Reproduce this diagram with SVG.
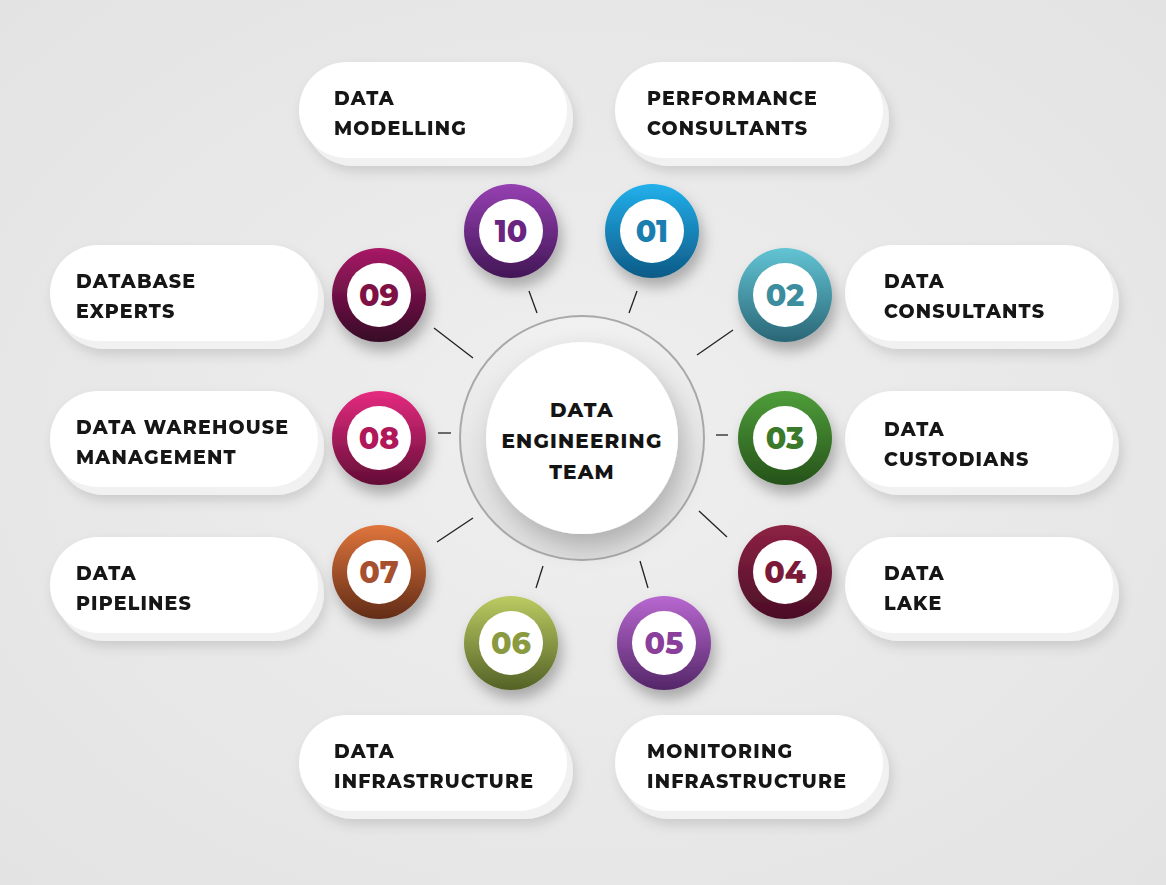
<svg xmlns="http://www.w3.org/2000/svg" width="1166" height="885" viewBox="0 0 1166 885">
<defs>
<style>
.lbl{font-family:"Montserrat","Inter","Liberation Sans",sans-serif;font-weight:800;font-size:19px;letter-spacing:1.2px;fill:#141414}
.ctr{font-family:"Montserrat","Inter","Liberation Sans",sans-serif;font-weight:800;font-size:20px;letter-spacing:1.2px;fill:#141414;text-anchor:middle}
.num{font-family:"Montserrat","Inter","Liberation Sans",sans-serif;font-weight:800;font-size:30px;text-anchor:middle}
.pill{fill:#ffffff}
.pillb{fill:#f1f1f1}
.inner{fill:#ffffff}
.tick{stroke:#222;stroke-width:1.3;fill:none}
</style>
<filter id="ps" x="-20%" y="-30%" width="140%" height="170%"><feDropShadow dx="3" dy="6" stdDeviation="6" flood-color="#000" flood-opacity="0.12"/></filter>
<filter id="cs" x="-50%" y="-50%" width="200%" height="200%"><feDropShadow dx="4" dy="9" stdDeviation="7" flood-color="#000" flood-opacity="0.28"/></filter>
<filter id="hs" x="-50%" y="-50%" width="200%" height="200%"><feDropShadow dx="6" dy="12" stdDeviation="12" flood-color="#000" flood-opacity="0.22"/></filter>
<radialGradient id="bg" cx="0.5" cy="0.5" r="0.7"><stop offset="0" stop-color="#efefef"/><stop offset="1" stop-color="#e3e3e3"/></radialGradient>
<linearGradient id="ring" x1="0" y1="0" x2="0" y2="1"><stop offset="0" stop-color="#f1f1f1"/><stop offset="1" stop-color="#dedede"/></linearGradient>
<linearGradient id="g01" x1="0" y1="0" x2="0" y2="1"><stop offset="0" stop-color="#22b0ec"/><stop offset="1" stop-color="#0d5a86"/></linearGradient>
<linearGradient id="g10" x1="0" y1="0" x2="0" y2="1"><stop offset="0" stop-color="#9640b2"/><stop offset="1" stop-color="#421656"/></linearGradient>
<linearGradient id="g02" x1="0" y1="0" x2="0" y2="1"><stop offset="0" stop-color="#62c4d4"/><stop offset="1" stop-color="#2a6676"/></linearGradient>
<linearGradient id="g09" x1="0" y1="0" x2="0" y2="1"><stop offset="0" stop-color="#a81a66"/><stop offset="1" stop-color="#360826"/></linearGradient>
<linearGradient id="g03" x1="0" y1="0" x2="0" y2="1"><stop offset="0" stop-color="#4f9e3a"/><stop offset="1" stop-color="#25521a"/></linearGradient>
<linearGradient id="g08" x1="0" y1="0" x2="0" y2="1"><stop offset="0" stop-color="#e62b80"/><stop offset="1" stop-color="#620d36"/></linearGradient>
<linearGradient id="g04" x1="0" y1="0" x2="0" y2="1"><stop offset="0" stop-color="#8e2244"/><stop offset="1" stop-color="#4a0e26"/></linearGradient>
<linearGradient id="g07" x1="0" y1="0" x2="0" y2="1"><stop offset="0" stop-color="#df753c"/><stop offset="1" stop-color="#622c16"/></linearGradient>
<linearGradient id="g05" x1="0" y1="0" x2="0" y2="1"><stop offset="0" stop-color="#b868d0"/><stop offset="1" stop-color="#542668"/></linearGradient>
<linearGradient id="g06" x1="0" y1="0" x2="0" y2="1"><stop offset="0" stop-color="#bccb62"/><stop offset="1" stop-color="#536226"/></linearGradient>
</defs>
<rect width="1166" height="885" fill="url(#bg)"/>

<g id="connectors">
<line class="tick" x1="529" y1="291" x2="537" y2="313"/>
<line class="tick" x1="637" y1="291" x2="629" y2="313"/>
<line class="tick" x1="733" y1="330" x2="697" y2="355"/>
<line class="tick" x1="434" y1="328" x2="473" y2="358"/>
<line class="tick" x1="438" y1="433" x2="451" y2="433"/>
<line class="tick" x1="716" y1="435" x2="728" y2="435"/>
<line class="tick" x1="437" y1="542" x2="473" y2="518"/>
<line class="tick" x1="699" y1="511" x2="727" y2="537"/>
<line class="tick" x1="536" y1="588" x2="543" y2="566"/>
<line class="tick" x1="648" y1="588" x2="640" y2="561"/>
</g>

<g id="hub">
<circle cx="582" cy="438" r="122" fill="url(#ring)" stroke="#a9a9a9" stroke-width="2"/>
<circle cx="582" cy="438" r="96" fill="#ffffff" filter="url(#hs)"/>
<text class="ctr" x="582" y="417">DATA</text>
<text class="ctr" x="582" y="448">ENGINEERING</text>
<text class="ctr" x="582" y="479">TEAM</text>
</g>

<g id="p-modelling" filter="url(#ps)">
<rect class="pillb" x="305" y="70" width="268" height="96" rx="48"/>
<rect class="pill" x="299" y="62" width="268" height="96" rx="48"/>
<text class="lbl" x="334" y="105">DATA</text>
<text class="lbl" x="334" y="135">MODELLING</text>
</g>
<g id="p-performance" filter="url(#ps)">
<rect class="pillb" x="621" y="70" width="268" height="96" rx="48"/>
<rect class="pill" x="615" y="62" width="268" height="96" rx="48"/>
<text class="lbl" x="647" y="105">PERFORMANCE</text>
<text class="lbl" x="647" y="135">CONSULTANTS</text>
</g>
<g id="p-database" filter="url(#ps)">
<rect class="pillb" x="56" y="253" width="268" height="96" rx="48"/>
<rect class="pill" x="50" y="245" width="268" height="96" rx="48"/>
<text class="lbl" x="76" y="288">DATABASE</text>
<text class="lbl" x="76" y="318">EXPERTS</text>
</g>
<g id="p-consultants" filter="url(#ps)">
<rect class="pillb" x="851" y="253" width="268" height="96" rx="48"/>
<rect class="pill" x="845" y="245" width="268" height="96" rx="48"/>
<text class="lbl" x="884" y="288">DATA</text>
<text class="lbl" x="884" y="318">CONSULTANTS</text>
</g>
<g id="p-warehouse" filter="url(#ps)">
<rect class="pillb" x="56" y="399" width="268" height="96" rx="48"/>
<rect class="pill" x="50" y="391" width="268" height="96" rx="48"/>
<text class="lbl" x="76" y="434">DATA WAREHOUSE</text>
<text class="lbl" x="76" y="464">MANAGEMENT</text>
</g>
<g id="p-custodians" filter="url(#ps)">
<rect class="pillb" x="851" y="399" width="268" height="96" rx="48"/>
<rect class="pill" x="845" y="391" width="268" height="96" rx="48"/>
<text class="lbl" x="884" y="436">DATA</text>
<text class="lbl" x="884" y="466">CUSTODIANS</text>
</g>
<g id="p-pipelines" filter="url(#ps)">
<rect class="pillb" x="56" y="545" width="268" height="96" rx="48"/>
<rect class="pill" x="50" y="537" width="268" height="96" rx="48"/>
<text class="lbl" x="76" y="580">DATA</text>
<text class="lbl" x="76" y="610">PIPELINES</text>
</g>
<g id="p-lake" filter="url(#ps)">
<rect class="pillb" x="851" y="545" width="268" height="96" rx="48"/>
<rect class="pill" x="845" y="537" width="268" height="96" rx="48"/>
<text class="lbl" x="884" y="580">DATA</text>
<text class="lbl" x="884" y="610">LAKE</text>
</g>
<g id="p-infra" filter="url(#ps)">
<rect class="pillb" x="305" y="723" width="268" height="96" rx="48"/>
<rect class="pill" x="299" y="715" width="268" height="96" rx="48"/>
<text class="lbl" x="334" y="758">DATA</text>
<text class="lbl" x="334" y="788">INFRASTRUCTURE</text>
</g>
<g id="p-monitoring" filter="url(#ps)">
<rect class="pillb" x="621" y="723" width="268" height="96" rx="48"/>
<rect class="pill" x="615" y="715" width="268" height="96" rx="48"/>
<text class="lbl" x="647" y="758">MONITORING</text>
<text class="lbl" x="647" y="788">INFRASTRUCTURE</text>
</g>

<g id="n01"><circle cx="652" cy="231" r="47" fill="url(#g01)" filter="url(#cs)"/><circle class="inner" cx="652" cy="231" r="32"/><text class="num" x="652" y="242" fill="#1b7eb0">01</text></g>
<g id="n10"><circle cx="511" cy="231" r="47" fill="url(#g10)" filter="url(#cs)"/><circle class="inner" cx="511" cy="231" r="32"/><text class="num" x="511" y="242" fill="#6a2580">10</text></g>
<g id="n02"><circle cx="785" cy="295" r="47" fill="url(#g02)" filter="url(#cs)"/><circle class="inner" cx="785" cy="295" r="32"/><text class="num" x="785" y="306" fill="#3c8d9e">02</text></g>
<g id="n09"><circle cx="379" cy="295" r="47" fill="url(#g09)" filter="url(#cs)"/><circle class="inner" cx="379" cy="295" r="32"/><text class="num" x="379" y="306" fill="#7e1245">09</text></g>
<g id="n03"><circle cx="785" cy="438" r="47" fill="url(#g03)" filter="url(#cs)"/><circle class="inner" cx="785" cy="438" r="32"/><text class="num" x="785" y="449" fill="#3a7a2a">03</text></g>
<g id="n08"><circle cx="379" cy="438" r="47" fill="url(#g08)" filter="url(#cs)"/><circle class="inner" cx="379" cy="438" r="32"/><text class="num" x="379" y="449" fill="#b0185a">08</text></g>
<g id="n04"><circle cx="785" cy="572" r="47" fill="url(#g04)" filter="url(#cs)"/><circle class="inner" cx="785" cy="572" r="32"/><text class="num" x="785" y="583" fill="#7a1a38">04</text></g>
<g id="n07"><circle cx="379" cy="572" r="47" fill="url(#g07)" filter="url(#cs)"/><circle class="inner" cx="379" cy="572" r="32"/><text class="num" x="379" y="583" fill="#a65030">07</text></g>
<g id="n05"><circle cx="664" cy="643" r="47" fill="url(#g05)" filter="url(#cs)"/><circle class="inner" cx="664" cy="643" r="32"/><text class="num" x="664" y="654" fill="#8a409a">05</text></g>
<g id="n06"><circle cx="511" cy="643" r="47" fill="url(#g06)" filter="url(#cs)"/><circle class="inner" cx="511" cy="643" r="32"/><text class="num" x="511" y="654" fill="#8a9a40">06</text></g>
</svg>
